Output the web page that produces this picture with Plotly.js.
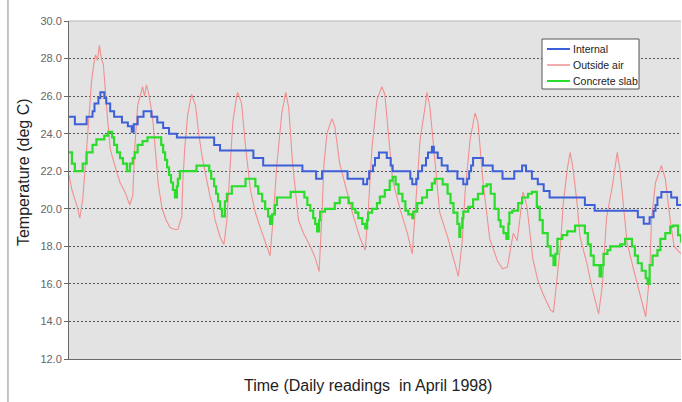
<!DOCTYPE html>
<html>
<head>
<meta charset="utf-8">
<script src="https://cdn.plot.ly/plotly-3.0.1.min.js"></script>
<style>html,body{margin:0;padding:0;background:#fff;}#chart{width:682px;height:402px;}</style>
</head>
<body>
<div id="chart"></div>
<script>
// Time in hours from start of record (13 days)
const internalT = [0,3,9,12,13,15,16,18,19,21,23,27,30,32,33,35,38,42,45,48,51,55,74,77,94,99,119,126,129,142,150,152,153,155,156,158,162,164,165,174,175,177,178,180,182,183,185,186,188,190,193,198,201,203,204,205,206,211,216,221,227,231,233,236,239,242,245,263,268,290,293,296,298,299,300,302,307,310,312];
const internalV = [24.9,24.5,24.9,25.2,25.6,25.9,26.2,25.9,25.6,25.2,24.9,24.6,24.4,24.1,24.5,24.9,25.2,24.9,24.6,24.3,24.0,23.8,23.4,23.1,22.7,22.3,22.0,21.6,22.0,21.6,21.3,21.6,22.0,22.3,22.7,23.0,22.7,22.3,22.0,21.6,21.3,21.6,22.0,22.3,22.7,23.0,23.3,23.0,22.7,22.3,22.0,21.6,21.3,21.6,22.0,22.3,22.7,22.3,22.0,21.6,22.0,22.3,22.0,21.6,21.3,20.95,20.6,20.2,19.9,19.55,19.2,19.55,19.9,20.2,20.6,20.9,20.6,20.2,20.2];

const slabT = [0,1.5,3,7,9,12,14,18,20,22,23,24.5,26,27.5,29.5,31,32.5,33.5,35,37.5,40,47,48,49,50,51,52,53,54,55,55.5,56.5,65,71.5,72.5,74,75,76,77,78,79.5,80.5,83,90,95,96.5,98.5,100,101.5,102.5,103.5,105,106,113,120,121.5,123,124.5,125.5,126.5,127.5,128,130.5,135.5,138,142.5,144.5,146,147.5,149.5,151,152,152.5,154.5,157,158.5,161,163.5,165,166.5,168,170,171.5,173,175,175.5,177.5,180,182.5,185,186.5,190.5,193,194.5,196,198,199,199.5,200.5,201,203.5,206,208.5,211,213,215,217,219,220,221.5,223,224,224.5,226,229,231,234,236,238.5,240,241.5,244,245.5,247,248,249,251.5,254,258,263,264.5,266,267.5,270.5,271.5,272.5,274.5,276,281,283.5,287,288.5,290,292,294,295,296,297.5,300,301.5,304,306.5,308,310.5,312];
const slabV = [23.0,22.4,22.0,22.4,23.0,23.4,23.7,23.9,24.1,23.8,23.4,23.0,22.7,22.4,22.0,22.4,22.7,23.0,23.4,23.6,23.8,23.4,23.0,22.6,22.2,21.8,21.4,21.0,20.6,21.2,21.6,22.0,22.3,22.0,21.6,21.2,20.8,20.4,20.0,19.6,20.4,20.8,21.2,21.6,21.2,20.8,20.4,20.0,19.6,19.2,19.7,20.2,20.6,20.9,20.6,20.2,19.9,19.5,19.2,18.8,19.4,19.85,20.0,20.3,20.6,20.3,20.0,19.8,19.5,19.2,18.95,19.4,19.8,20.0,20.3,20.65,21.0,21.5,21.7,21.3,20.8,20.4,19.9,19.7,19.5,19.85,20.3,20.6,21.0,21.35,21.6,21.3,20.8,20.3,19.8,19.2,18.5,19.0,19.5,19.85,20.1,20.5,20.8,21.2,21.3,20.8,20.0,19.4,19.05,18.7,18.4,19.2,19.8,19.9,20.3,20.6,20.8,20.9,20.1,19.4,18.7,18.0,17.5,17.0,17.6,18.4,18.6,18.8,19.1,18.7,18.1,17.5,17.0,16.4,17.0,17.6,17.8,18.0,18.1,18.4,18.0,17.5,17.1,16.7,16.3,16.0,17.0,17.5,17.8,18.4,18.7,19.05,19.1,18.6,18.2];

const outsideT = [0,1.5,3,4.5,5.5,7,9,10,11.5,12.5,13.5,14.5,15.5,16.5,17.5,19.5,21,22,23.5,24.5,26,28.5,31,32.5,33.5,35,37.5,38.5,39.5,40.5,42.5,44,45.5,47.5,49.5,51.5,54,55.5,57.5,58,59,60.5,62.5,64.5,66,68,69.5,72,73,74.5,77,79,80.5,82,83.5,85.5,86,88,90,92.5,95,97.5,100,102.5,104,106,108.5,110.5,112,114,117,119.5,121,123,125.5,127.5,129,130,131.5,134,135.5,138,142,145,148.5,151,152.5,154.5,157,159.5,161,162.5,165,169,172.5,175,176.5,179,181.5,182.5,184,186.5,189,193,196,198.5,200.5,202,204.5,207,208.5,211,214.5,218.5,221,223.5,225,226.5,228.5,231,231.5,233.5,235,236.5,239,241.5,245.5,247,249,250.5,252,254,255.5,257,259,260.5,264,266.5,270,272,274,277,279.5,281,283,284.5,287.5,291,294,296,297,299,302,304,306.5,308.5,312];
const outsideV = [21.8,21.0,20.5,20.0,19.5,20.5,23.2,24.8,26.8,27.6,28.2,27.9,28.7,28.0,27.7,25.0,23.2,22.8,22.2,21.9,21.4,20.9,20.2,20.7,23.2,25.5,26.5,26.0,26.6,26.2,25.0,22.9,21.3,20.0,19.4,19.0,18.9,18.9,19.6,21.4,23.2,25.0,26.1,25.5,24.1,22.7,21.9,20.6,20.3,19.4,18.5,18.1,19.4,21.9,24.6,26.0,26.2,25.6,23.3,21.0,19.8,19.0,18.2,17.5,19.4,22.4,25.1,26.2,25.4,22.4,19.4,18.7,18.4,18.0,17.4,16.65,19.8,22.4,24.0,24.8,24.4,22.4,20.8,19.6,18.4,17.8,19.8,23.3,25.8,26.5,26.1,24.2,21.5,19.9,18.7,17.6,19.8,23.7,25.4,26.2,25.4,22.4,19.8,18.5,17.3,16.4,18.3,21.0,23.7,25.1,24.6,21.5,18.4,17.2,16.8,16.9,17.8,18.7,18.3,20.6,20.9,20.1,18.5,17.3,16.2,15.5,14.6,14.5,16.5,18.0,20.3,22.1,23.0,22.1,20.3,18.5,17.1,15.85,14.4,16.0,19.5,21.2,23.0,22.0,19.8,18.2,16.9,15.5,14.25,16.5,19.5,21.4,22.3,21.6,19.4,18.0,17.6];

const yTicks = [12,14,16,18,20,22,24,26,28,30];
const yTickText = ['12.0','14.0','16.0','18.0','20.0','22.0','24.0','26.0','28.0','30.0'];
const seriesNames = ['Internal', 'Outside air', 'Concrete slab'];

const colInternal = '#3d5fd8', colOutside = '#f29090', colSlab = '#2bdc2b';

const traces = [
  {x: outsideT, y: outsideV, name: seriesNames[1], type: 'scatter', mode: 'lines',
   line: {color: colOutside, width: 1.1}},
  {x: internalT, y: internalV, name: seriesNames[0], type: 'scatter', mode: 'lines',
   line: {color: colInternal, width: 2, shape: 'hv'}},
  {x: slabT, y: slabV, name: seriesNames[2], type: 'scatter', mode: 'lines',
   line: {color: colSlab, width: 2.2, shape: 'hv'}}
];

// custom compact legend (paper coordinates)
const legColors = [colInternal, colOutside, colSlab];
const legRowsY = [0.9172, 0.8698, 0.8225];
const shapes = [
  {type: 'line', xref: 'paper', yref: 'paper', x0: 0, x1: 1, y0: 1, y1: 1,
   line: {color: '#b5b5b5', width: 1}},
  {type: 'line', xref: 'paper', yref: 'paper', x0: -0.0997, x1: -0.0997, y0: -0.13, y1: 1.07,
   line: {color: '#8a8a8a', width: 1}},
  {type: 'rect', xref: 'paper', yref: 'paper', x0: 0.7729, x1: 0.9314, y0: 0.7988, y1: 0.9467,
   fillcolor: '#ffffff', line: {color: '#555', width: 1}, layer: 'above'}
];
const annotations = [
  {text: 'Temperature (deg C)', xref: 'paper', yref: 'paper', x: -0.0752, y: 0.553,
   xanchor: 'center', yanchor: 'middle', textangle: -90, showarrow: false,
   font: {size: 16, color: '#222'}},
  {text: 'Time (Daily readings \u00a0in April 1998)', xref: 'paper', yref: 'paper', x: 0.4886, y: -0.077,
   xanchor: 'center', yanchor: 'middle', showarrow: false,
   font: {size: 16, color: '#222'}}
];
seriesNames.forEach((nm, i) => {
  shapes.push({type: 'line', xref: 'paper', yref: 'paper', x0: 0.7810, x1: 0.8186,
    y0: legRowsY[i], y1: legRowsY[i], line: {color: legColors[i], width: i === 1 ? 1.5 : 2}, layer: 'above'});
  annotations.push({text: nm, xref: 'paper', yref: 'paper', x: 0.8203, y: legRowsY[i],
    xanchor: 'left', yanchor: 'middle', showarrow: false, font: {size: 10.5, color: '#222'}});
});

const layout = {
  width: 682, height: 402,
  margin: {l: 69, r: 1, t: 21, b: 43, pad: 0},
  paper_bgcolor: '#ffffff',
  plot_bgcolor: '#e3e3e3',
  font: {family: '"Liberation Sans", Arial, sans-serif', color: '#222'},
  showlegend: false,
  xaxis: {range: [0, 312], showticklabels: false, ticks: '', showgrid: false,
    zeroline: false, showline: true, linecolor: '#6a6a6a', linewidth: 1, fixedrange: true},
  yaxis: {range: [12, 30], tickvals: yTicks, ticktext: yTickText, ticks: 'outside', ticklen: 4,
    tickcolor: '#666', showgrid: true, gridcolor: '#555', gridwidth: 1, griddash: '2px,2px',
    zeroline: false, showline: true, linecolor: '#6a6a6a', linewidth: 1,
    tickfont: {size: 11, color: '#666'}, fixedrange: true},
  shapes: shapes,
  annotations: annotations
};

Plotly.newPlot('chart', traces, layout, {displayModeBar: false, staticPlot: true});
</script>
</body>
</html>
